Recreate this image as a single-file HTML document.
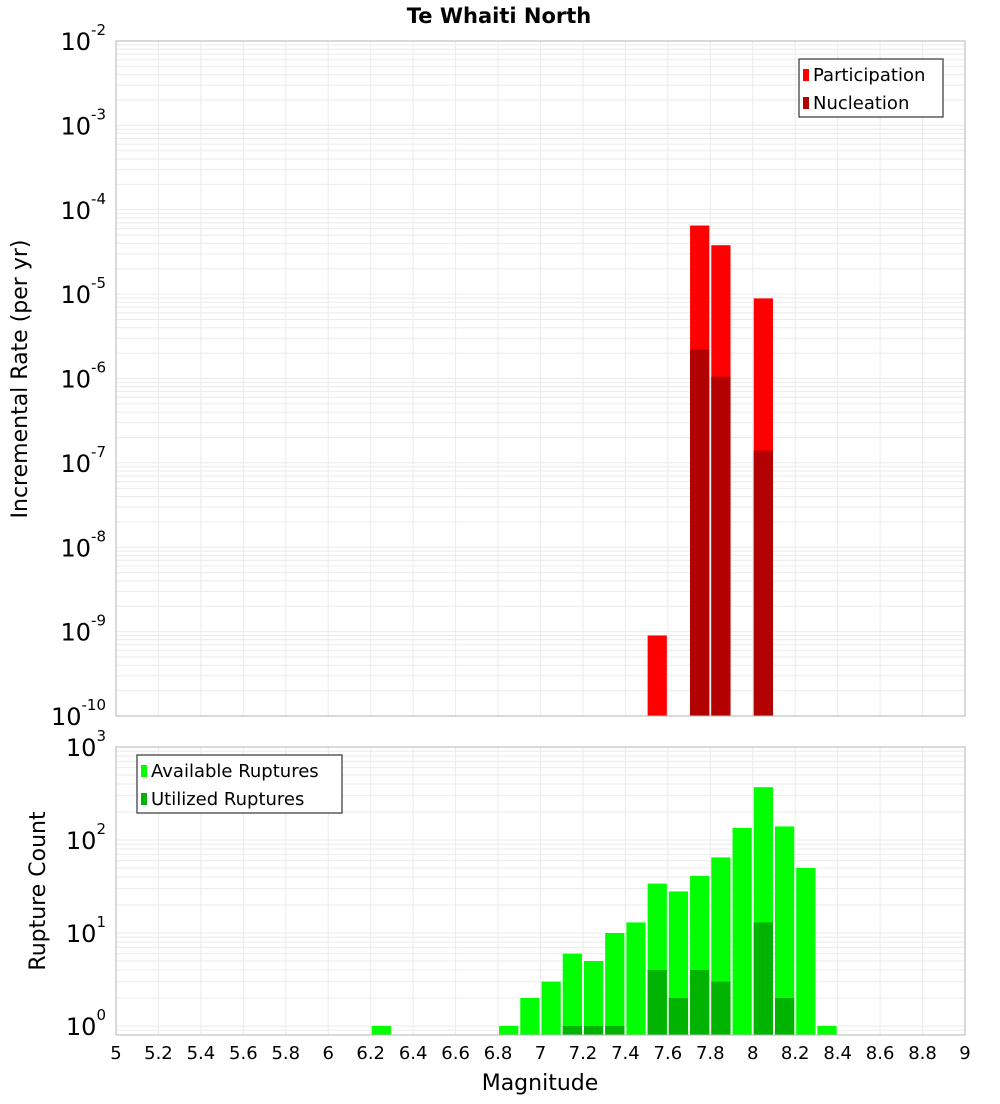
<!DOCTYPE html>
<html><head><meta charset="utf-8"><style>
body{margin:0;background:#fff;font-family:"DejaVu Sans","Liberation Sans",sans-serif;}
svg text{font-family:"DejaVu Sans","Liberation Sans",sans-serif;}
</style></head><body>
<svg id="chart" width="1000" height="1100" xmlns="http://www.w3.org/2000/svg">
<text x="499" y="23" text-anchor="middle" font-size="21" font-weight="bold">Te Whaiti North</text>
<text transform="translate(27,379) rotate(-90)" text-anchor="middle" font-size="22">Incremental Rate (per yr)</text>
<text transform="translate(45,891) rotate(-90)" text-anchor="middle" font-size="22">Rupture Count</text>
<text x="540" y="1090" text-anchor="middle" font-size="22">Magnitude</text>
</svg>
<script>
const mags=[7.5,7.7,7.8,8.0];
const participation=[9e-10,6.5e-5,3.8e-5,8.9e-6];
const nucleation=[0,2.2e-6,1.05e-6,1.4e-7];
const countMags=[6.2,6.8,6.9,7.0,7.1,7.2,7.3,7.4,7.5,7.6,7.7,7.8,7.9,8.0,8.1,8.2,8.3];
const available=[1,1,2,3,6,5,10,13,34,28,41,65,135,370,140,50,1];
const utilized=[0,0,0,0,1,1,1,0,4,2,4,3,0,13,2,0,0];
const xTicks=[5,5.2,5.4,5.6,5.8,6,6.2,6.4,6.6,6.8,7,7.2,7.4,7.6,7.8,8,8.2,8.4,8.6,8.8,9];
const topExps=[-10,-9,-8,-7,-6,-5,-4,-3,-2];
const botExps=[0,1,2,3];
const NS='http://www.w3.org/2000/svg';
const svg=document.getElementById('chart');
const L=116,R=965;
function x(m){return L+(m-5)/4*(R-L);}
const T1=41,B1=716;
function y1(v){return B1-(Math.log10(v)+10)*(B1-T1)/8;}
const T2=747,B2=1035,Y0=1026,DEC=(Y0-T2)/3;
function y2(v){return Y0-Math.log10(v)*DEC;}
function el(tag,attrs,parent){const e=document.createElementNS(NS,tag);for(const k in attrs)e.setAttribute(k,attrs[k]);(parent||svg).appendChild(e);return e;}
function grid(top,bot,yf,e0,e1){
 const g=el('g',{});
 
 
 for(let e=e0;e<e1;e++)for(let k=1;k<10;k++){const yy=yf(k*Math.pow(10,e));if(yy>=top&&yy<=bot)el('line',{x1:L,x2:R,y1:yy,y2:yy,stroke:'#ebebeb','stroke-width':1},g);}
 xTicks.forEach(t=>el('line',{x1:x(t),x2:x(t),y1:top,y2:bot,stroke:'#ebebeb','stroke-width':1},g));
}
grid(T1,B1,y1,-10,-2);
grid(T2,B2,y2,-1,3);
function bar(m,v,yf,base,color,name){
 const r=el('rect',{x:x(m)+1,y:yf(v),width:x(m+0.1)-x(m)-2,height:base-yf(v),fill:color});
 
 
}
mags.forEach((m,i)=>{if(participation[i]>0)bar(m,participation[i],y1,B1,'#ff0000','participation-bar');});
mags.forEach((m,i)=>{if(nucleation[i]>0)bar(m,nucleation[i],y1,B1,'#b30000','nucleation-bar');});
countMags.forEach((m,i)=>{if(available[i]>0)bar(m,available[i],y2,B2,'#00ff00','available-bar');});
countMags.forEach((m,i)=>{if(utilized[i]>0)bar(m,utilized[i],y2,B2,'#00b300','utilized-bar');});
el('rect',{x:L,y:T1,width:R-L,height:B1-T1,fill:'none',stroke:'#b5b5b5'});
el('rect',{x:L,y:T2,width:R-L,height:B2-T2,fill:'none',stroke:'#b5b5b5'});
function ylab(e,yy,name){
 const t=el('text',{x:106,y:yy+9,'text-anchor':'end','font-size':24});
 
 
 t.textContent='10';
 const s=el('tspan',{dy:-15,'font-size':15});s.textContent=String(e);t.appendChild(s);
}
topExps.forEach(e=>ylab(e,y1(Math.pow(10,e)),'top-y-tick-label'));
botExps.forEach(e=>ylab(e,y2(Math.pow(10,e)),'bottom-y-tick-label'));
xTicks.forEach(t=>{
 const tx=el('text',{x:x(t),y:1059,'text-anchor':'middle','font-size':18});
 
 
 tx.textContent=String(t);
});
function legend(lx,ly,w,items){
 const g=el('g',{});
 
 
 el('rect',{x:lx,y:ly,width:w,height:58,fill:'#fff',stroke:'#333','stroke-width':1.2},g);
 items.forEach((it,i)=>{
  el('rect',{x:lx+4,y:ly+10+i*28,width:6,height:12,fill:it[1]},g);
  const t=el('text',{x:lx+14,y:ly+22+i*28,'font-size':18},g);
  
  
  t.textContent=it[0];
 });
}
legend(799,59,144,[['Participation','#ff0000'],['Nucleation','#b30000']]);
legend(137,755,205,[['Available Ruptures','#00ff00'],['Utilized Ruptures','#00b300']]);
</script>
</body></html>
